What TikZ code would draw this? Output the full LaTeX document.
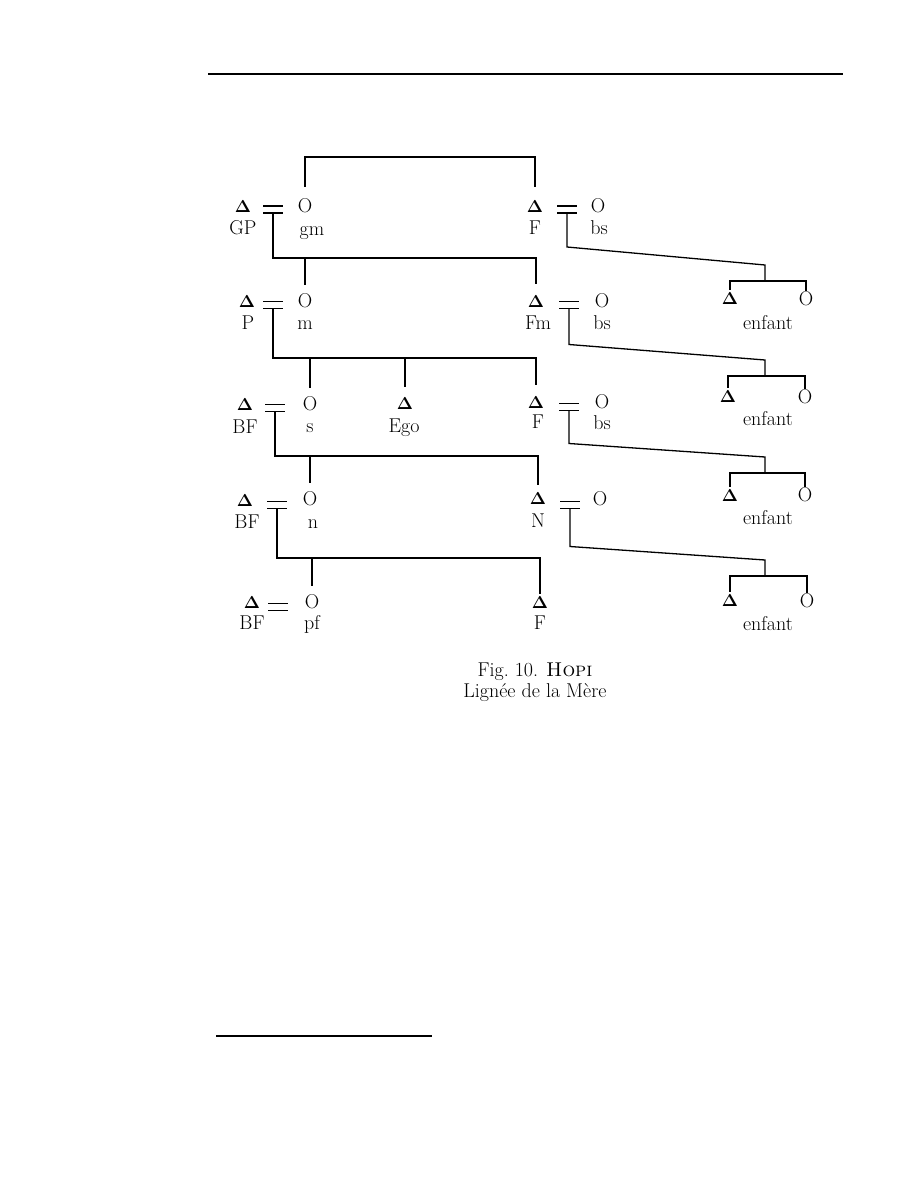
\documentclass[tikz,border=0pt]{standalone}
\usepackage{amsmath}
\usepackage{tikz}
\usetikzlibrary{calc}

\begin{document}
\begin{tikzpicture}[x=1pt, y=-1pt,
    every node/.style={font=\fontsize{20}{22}\selectfont, inner sep=0pt},
    sex/.style={font=\fontsize{17}{19}\selectfont},
    lab/.style={text height=12pt, text depth=4pt},
    kin/.style={line width=1.3pt}]
  \def\mtri{$\mathbf{\Delta}$}
  \def\hw{10}  \def\gap{3.5}

  \useasboundingbox (0,0) rectangle (918,1188);

  % page rules
  \draw[line width=1.8pt] (208,74) -- (843,74);
  \draw[line width=1.5pt] (216,1036) -- (432,1036);

  % levels of the sibling bars
  \coordinate (b1) at (0,157);
  \coordinate (b2) at (0,258);
  \coordinate (b3) at (0,358);
  \coordinate (b4) at (0,456);
  \coordinate (b5) at (0,558);

  % row 1
  \node[sex] (gp)   at (243,207) {\mtri};
  \node[lab] (lgp)  at (243,230) {GP};
  \node      (gm)   at (305,206) {O};
  \node[lab] (lgm)  at (312,231) {gm};
  \node[sex] (f1)   at (535,207) {\mtri};
  \node[lab] (lf1)  at (535,230) {F};
  \node      (bs1)  at (598,206) {O};
  \node[lab] (lbs1) at (599,230) {bs};
  \coordinate (mGP) at (273,209.5);
  \coordinate (mF1) at (567,209.5);

  % row 2
  \node[sex] (p)    at (247,302) {\mtri};
  \node[lab] (lp)   at (248,325) {P};
  \node      (m)    at (305,301) {O};
  \node[lab] (lm)   at (305,325) {m};
  \node[sex] (fm)   at (536,302) {\mtri};
  \node[lab] (lfm)  at (538,325) {Fm};
  \node      (bs2)  at (602,301) {O};
  \node[lab] (lbs2) at (602,325) {bs};
  \coordinate (mP)  at (273,305);
  \coordinate (mFm) at (569,305);

  % row 3
  \node[sex] (bf3)  at (245,405) {\mtri};
  \node[lab] (lbf3) at (245,429) {BF};
  \node      (s)    at (310,404) {O};
  \node[lab] (ls)   at (310,428) {s};
  \node[sex] (ego)  at (405,404) {\mtri};
  \node[lab] (lego) at (404,428) {Ego};
  \node[sex] (f3)   at (536,403) {\mtri};
  \node[lab] (lf3)  at (538,424) {F};
  \node      (bs3)  at (602,402) {O};
  \node[lab] (lbs3) at (602,425) {bs};
  \coordinate (mBF3) at (275,408);
  \coordinate (mF3)  at (569,407);

  % row 4
  \node[sex] (bf4)  at (245,501) {\mtri};
  \node[lab] (lbf4) at (247,524) {BF};
  \node      (n)    at (310,499) {O};
  \node[lab] (ln)   at (313,524) {n};
  \node[sex] (nn)   at (538,499) {\mtri};
  \node[lab] (lnn)  at (538,523) {N};
  \node      (o4)   at (600,499) {O};
  \coordinate (mBF4) at (277,505);
  \coordinate (mN)   at (570,505);

  % row 5
  \node[sex] (bf5)  at (252,603) {\mtri};
  \node[lab] (lbf5) at (252,625) {BF};
  \node      (pf)   at (312,602) {O};
  \node[lab] (lpf)  at (312,625) {pf};
  \node[sex] (f5)   at (540,603) {\mtri};
  \node[lab] (lf5)  at (540,625) {F};
  \coordinate (mBF5) at (278,607);

  % children on the right
  \node[sex] (cA1) at (730,299) {\mtri};
  \node      (cO1) at (806,299) {O};
  \node[lab] (en1) at (768,325) {enfant};
  \coordinate (k1) at (765,281);
  \node[sex] (cA2) at (728,397) {\mtri};
  \node      (cO2) at (805,397) {O};
  \node[lab] (en2) at (768,421) {enfant};
  \coordinate (k2) at (765,376);
  \node[sex] (cA3) at (730,496) {\mtri};
  \node      (cO3) at (805,495) {O};
  \node[lab] (en3) at (768,520) {enfant};
  \coordinate (k3) at (765,473);
  \node[sex] (cA4) at (730,601) {\mtri};
  \node      (cO4) at (807,601) {O};
  \node[lab] (en4) at (768,626) {enfant};
  \coordinate (k4) at (765,576);

  % marriage signs
  \foreach \m in {mGP,mF1,mP,mFm,mBF3,mF3,mBF4,mN,mBF5}
    \draw[kin] ($(\m)+(-\hw,-\gap)$) -- +(2*\hw,0)
               ($(\m)+(-\hw,\gap)$) -- +(2*\hw,0);

  % siblings
  \draw[kin, shorten <=12pt, shorten >=14pt] (gm.north) |- (b1 -| f1.north) -- (f1.north);

  \draw[kin, shorten >=12pt] ($(mGP)+(0,\gap)$) |- (b2 -| fm.north) -- (fm.north);
  \draw[kin, shorten >=9pt] (m.north |- b2) -- (m.north);

  \draw[kin, shorten >=12pt] ($(mP)+(0,\gap)$) |- (b3 -| f3.north) -- (f3.north);
  \draw[kin, shorten >=9pt] (s.north |- b3) -- (s.north);
  \draw[kin, shorten >=11pt] (ego.north |- b3) -- (ego.north);

  \draw[kin, shorten >=8pt] ($(mBF3)+(0,\gap)$) |- (b4 -| nn.north) -- (nn.north);
  \draw[kin, shorten >=9pt] (n.north |- b4) -- (n.north);

  \draw[kin, shorten >=3pt] ($(mBF4)+(0,\gap)$) |- (b5 -| f5.north) -- (f5.north);
  \draw[kin, shorten >=9pt] (pf.north |- b5) -- (pf.north);

  % descent to the enfants
  \draw[kin] ($(mF1)+(0,\gap)$) -- ++(0,34) -- ($(k1)+(0,-16)$) -- (k1);
  \draw[kin, shorten <=3pt, shorten >=1pt] (cA1.north) |- (k1) -| (cO1.north);

  \draw[kin] ($(mFm)+(0,\gap)$) -- ++(0,36) -- ($(k2)+(0,-16)$) -- (k2);
  \draw[kin, shorten <=3pt, shorten >=1pt] (cA2.north) |- (k2) -| (cO2.north);

  \draw[kin] ($(mF3)+(0,\gap)$) -- ++(0,33) -- ($(k3)+(0,-16)$) -- (k3);
  \draw[kin, shorten <=3pt, shorten >=1pt] (cA3.north) |- (k3) -| (cO3.north);

  \draw[kin] ($(mN)+(0,\gap)$) -- ++(0,38) -- ($(k4)+(0,-16)$) -- (k4);
  \draw[kin, shorten <=3pt, shorten >=1pt] (cA4.north) |- (k4) -| (cO4.north);

  % caption
  \node[align=center, font=\fontsize{20}{21}\selectfont] (cap) at (535,682)
      {Fig.~10. \textsc{Hopi}\\Lignée de la Mère};
\end{tikzpicture}
\end{document}
